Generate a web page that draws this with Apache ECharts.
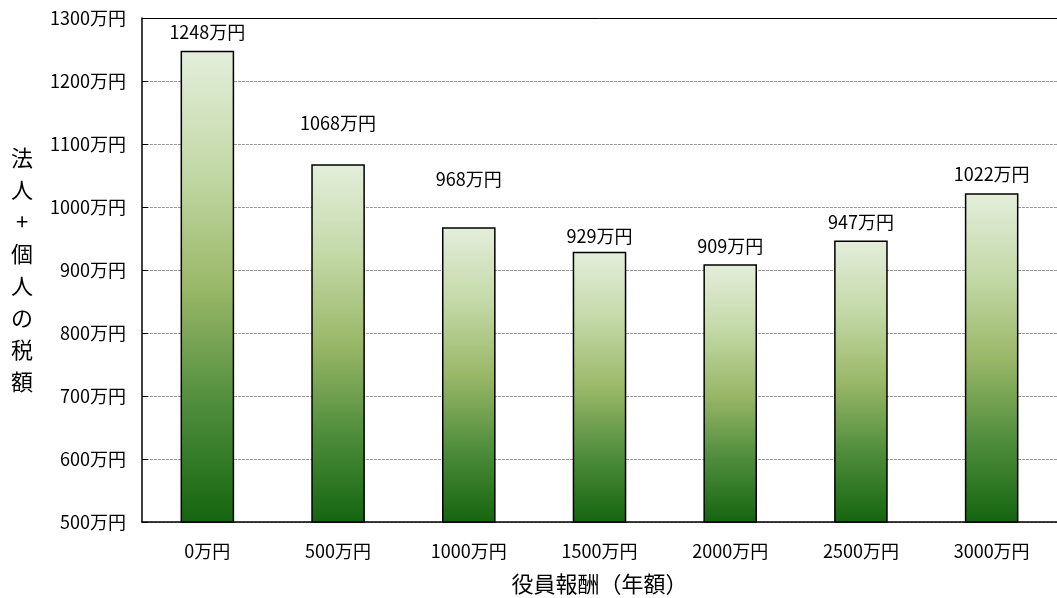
<!DOCTYPE html>
<html lang="ja">
<head>
<meta charset="UTF-8">
<title>役員報酬と税額</title>
<script src="https://cdn.jsdelivr.net/npm/echarts@6/dist/echarts.min.js"></script>
<style>
  html, body { margin: 0; padding: 0; background: #fff; }
  #chart { width: 1057px; height: 598px; }
</style>
</head>
<body>
<div id="chart"></div>
<script>
// 役員報酬（年額）ごとの 法人+個人 の税額（万円）
const categories = ['0万円', '500万円', '1000万円', '1500万円', '2000万円', '2500万円', '3000万円'];
const taxTotal = [1248, 1068, 968, 929, 909, 947, 1022];

// label distance above each bar (px), as placed in the original
const labelGap = [10, 32, 39, 7, 9, 9, 10];

const font = '"Noto Sans CJK JP", "Noto Sans", sans-serif';

const barGradient = new echarts.graphic.LinearGradient(0, 0, 0, 1, [
  { offset: 0, color: '#e4eedb' },
  { offset: 0.25, color: '#c4d9a8' },
  { offset: 0.5, color: '#9ab868' },
  { offset: 0.75, color: '#4f8d3c' },
  { offset: 1, color: '#14650f' }
]);

const chart = echarts.init(document.getElementById('chart'));
chart.setOption({
  animation: false,
  textStyle: { fontFamily: font },
  grid: { left: 142, right: 0, top: 18, bottom: 76, containLabel: false, outerBoundsMode: 'none' },
  xAxis: [{
    type: 'category',
    data: categories,
    name: '役員報酬（年額）',
    nameLocation: 'middle',
    nameGap: 51,
    nameTextStyle: { fontSize: 22, color: '#000', fontFamily: font },
    axisLine: { lineStyle: { color: '#000', width: 1.5 } },
    axisTick: { inside: true, length: 6, lineStyle: { color: '#000' } },
    axisLabel: { color: '#000', fontSize: 18, margin: 20, fontFamily: font }
  }, {
    type: 'category',
    position: 'top',
    data: categories,
    axisLine: { show: true, lineStyle: { color: '#000', width: 1 } },
    axisTick: { show: false },
    axisLabel: { show: false }
  }],
  yAxis: {
    type: 'value',
    min: 500,
    max: 1300,
    interval: 100,
    name: '法\n人\n+\n個\n人\nの\n税\n額',
    nameLocation: 'middle',
    nameRotate: 0,
    nameGap: 120,
    nameTextStyle: {
      fontSize: 22, color: '#000', lineHeight: 32,
      align: 'center', verticalAlign: 'middle', fontFamily: font
    },
    axisLine: { show: true, lineStyle: { color: '#000', width: 1.5 } },
    axisTick: { show: true, inside: true, length: 6, lineStyle: { color: '#000' } },
    axisLabel: {
      color: '#000', fontSize: 18, margin: 16, fontFamily: font,
      formatter: v => v + '万円'
    },
    splitLine: { lineStyle: { color: '#9a9a9a', width: 1, type: [3, 1] } }
  },
  series: [{
    type: 'bar',
    barWidth: '41%',
    data: taxTotal.map((v, i) => ({
      value: v,
      label: { distance: labelGap[i] }
    })),
    itemStyle: { color: barGradient, borderColor: '#000', borderWidth: 1.5 },
    label: {
      show: true,
      position: 'top',
      color: '#000',
      fontSize: 18,
      fontFamily: font,
      formatter: p => p.value + '万円'
    }
  }]
});
</script>
</body>
</html>
